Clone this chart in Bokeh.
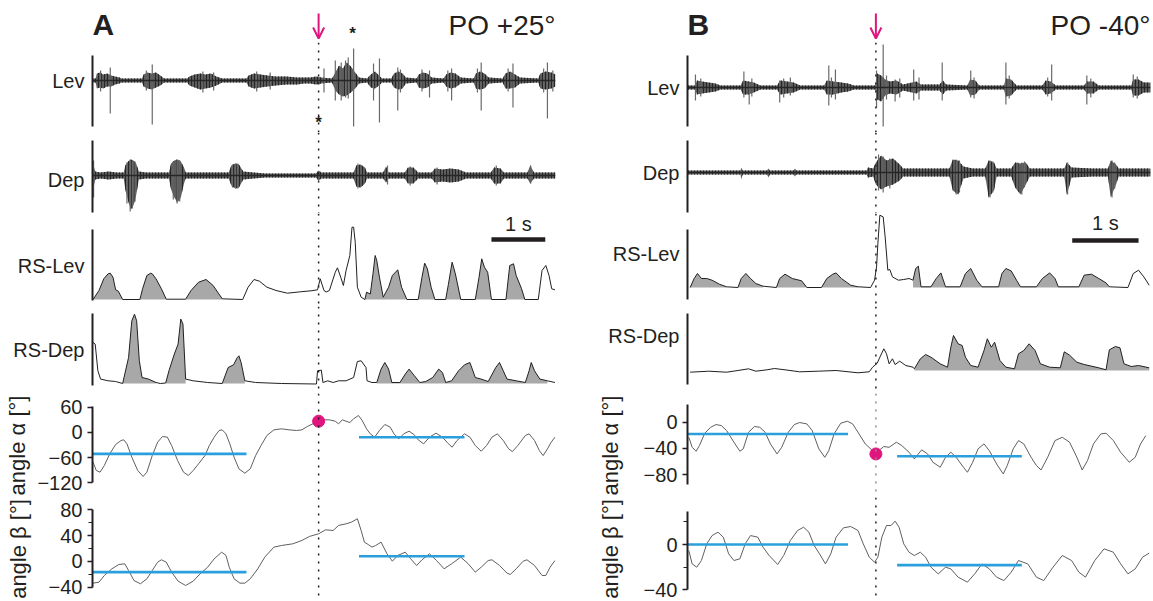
import numpy as np
from bokeh.plotting import figure
from bokeh.layouts import gridplot
from bokeh.models import Range1d, FixedTicker, Span, Arrow, OpenHead
from bokeh.core.properties import value
from bokeh.embed import file_html
from bokeh.resources import INLINE

# ---------------------------------------------------------------- data
# Panel A (PO +25 deg), time in s
A_T_END = 8.6
A_T_STIM = 4.2
LEV_A_T = [0.0, 0.06, 0.08, 0.14, 0.20, 0.27, 0.35, 0.42, 0.50, 0.54,
           0.92, 0.95, 1.02, 1.10, 1.18, 1.26, 1.33,
           1.76, 1.80, 1.90, 2.00, 2.10, 2.20, 2.30, 2.41,
           2.86, 2.90, 3.00, 3.12, 3.25, 3.40, 3.60, 3.80, 3.93,
           4.05, 4.15, 4.25,
           4.45, 4.51, 4.58, 4.65, 4.72, 4.80, 4.88, 4.95,
           5.10, 5.17, 5.25, 5.32, 5.38,
           5.55, 5.60, 5.68, 5.76, 5.82,
           6.02, 6.06, 6.14, 6.22, 6.30,
           6.52, 6.57, 6.65, 6.74, 6.84,
           7.08, 7.12, 7.20, 7.28, 7.36,
           7.62, 7.67, 7.76, 7.85, 7.94,
           8.28, 8.32, 8.42, 8.52, 8.60]
LEV_A_HI = [2, 2, 7, 8, 6, 7, 5, 4, 3, 2,
            2, 6, 8, 7, 8, 5, 2,
            2, 4, 6, 7, 6, 7, 4, 2,
            2, 5, 7, 6, 5, 4, 4, 3, 3,
            3, 4, 3,
            2, 8, 15, 12, 18, 14, 8, 3,
            2, 6, 9, 5, 2,
            2, 7, 9, 7, 3,
            2, 6, 8, 7, 3,
            2, 6, 8, 7, 3,
            2, 7, 9, 7, 3,
            2, 7, 9, 6, 3,
            2, 7, 9, 8, 6]
LEV_A_LO = [-2, -2, -8, -7, -8, -6, -6, -4, -3, -2,
            -2, -6, -8, -9, -7, -5, -2,
            -2, -5, -7, -9, -8, -7, -5, -2,
            -2, -6, -8, -7, -6, -5, -4, -4, -3,
            -3, -4, -3,
            -2, -10, -14, -16, -15, -12, -8, -3,
            -2, -7, -8, -5, -2,
            -2, -7, -9, -8, -3,
            -2, -7, -8, -7, -3,
            -2, -6, -8, -7, -3,
            -2, -8, -9, -8, -3,
            -2, -8, -8, -7, -3,
            -2, -8, -9, -8, -6]
LEV_A_SPK_T = [0.15, 0.33, 1.00, 1.11, 2.05, 2.25, 3.05, 3.30, 4.30, 4.51,
               4.62, 4.70, 4.75, 4.85, 5.22, 5.33, 5.67, 5.72, 6.12, 6.26,
               6.60, 6.67, 7.15, 7.22, 7.72, 7.81, 8.38, 8.45, 8.55]
LEV_A_SPK_HI = [10, 13, 10, 16, 9, 8, 9, 8, 12, 20,
                18, 20, 23, 32, 17, 22, 13, 11, 11, 10,
                10, 12, 12, 18, 12, 17, 12, 18, 10]
LEV_A_SPK_LO = [-11, -33, -10, -44, -12, -10, -11, -9, -12, -20,
                -20, -17, -18, -46, -20, -42, -30, -12, -11, -17,
                -11, -20, -12, -30, -11, -27, -12, -38, -11]

DEP_A_T = [0.0, 0.02, 0.05, 0.15, 0.30, 0.45,
           0.58, 0.61, 0.66, 0.71, 0.76, 0.81, 0.86,
           1.00, 1.20,
           1.42, 1.46, 1.52, 1.58, 1.64, 1.70, 1.73,
           1.95, 2.20,
           2.53, 2.58, 2.65, 2.72, 2.80,
           3.20, 3.70, 4.15, 4.20, 4.25,
           4.50, 4.85, 4.90, 4.98, 5.06, 5.10,
           5.40, 5.45, 5.50,
           5.80, 5.86, 5.96, 6.05,
           6.30, 6.36, 6.50, 6.65, 6.80, 6.94,
           7.40, 7.46, 7.58, 7.64,
           8.08, 8.13, 8.20, 8.60]
DEP_A_HI = [3, 10, 4, 3, 4, 3,
            3, 10, 14, 16, 15, 12, 4,
            3, 3,
            3, 12, 15, 16, 14, 8, 3,
            3, 3,
            3, 10, 12, 11, 4,
            2, 2, 2, 5, 3,
            3, 3, 10, 11, 8, 3,
            3, 9, 3,
            3, 8, 8, 3,
            3, 7, 6, 7, 6, 3,
            3, 8, 7, 3,
            3, 10, 3, 3]
DEP_A_LO = [-3, -12, -4, -3, -4, -3,
            -3, -14, -25, -34, -30, -20, -4,
            -3, -3,
            -3, -14, -22, -27, -22, -8, -3,
            -3, -3,
            -3, -10, -13, -12, -4,
            -2, -2, -2, -5, -3,
            -3, -3, -11, -12, -8, -3,
            -3, -7, -3,
            -3, -8, -8, -3,
            -3, -7, -6, -7, -6, -3,
            -3, -8, -8, -3,
            -3, -8, -3, -3]
DEP_A_SPK_T = [0.02, 0.64, 0.70, 0.74, 0.79, 1.50, 1.57, 1.62, 2.60, 2.66,
               2.70, 4.93, 5.48, 5.90, 6.40, 7.50, 8.14]
DEP_A_SPK_HI = [15, 13, 16, 14, 14, 14, 16, 15, 11, 12,
                12, 12, 10, 9, 8, 10, 10]
DEP_A_SPK_LO = [-22, -28, -36, -33, -26, -24, -28, -26, -12, -13,
                -13, -13, -9, -10, -9, -10, -8]

RSLEV_A_T = [0.01, 0.12, 0.21, 0.29, 0.33, 0.38, 0.43, 0.48, 0.56, 0.88,
             0.93, 1.01, 1.08, 1.11, 1.18, 1.28, 1.37, 1.73, 1.83, 1.97,
             2.11, 2.24, 2.41, 2.79, 2.89, 3.00, 3.10, 3.24, 3.41, 3.62,
             3.86, 4.06, 4.18, 4.23, 4.30, 4.34, 4.40, 4.51, 4.55, 4.61,
             4.66, 4.71, 4.78, 4.82, 4.85, 4.88, 4.92, 4.99, 5.06, 5.09,
             5.16, 5.21, 5.25, 5.28, 5.33, 5.40, 5.50, 5.57, 5.67, 5.74,
             5.84, 6.05, 6.12, 6.17, 6.22, 6.29, 6.36, 6.56, 6.61, 6.68,
             6.74, 6.84, 7.11, 7.18, 7.23, 7.28, 7.34, 7.41, 7.68, 7.75,
             7.82, 7.87, 7.97, 8.03, 8.28, 8.35, 8.42, 8.48, 8.53, 8.59]
RSLEV_A_V = [0, 9, 20.7, 25.7, 26.3, 22.3, 9.7, 8.3, 0, 0,
             10.7, 24, 26.3, 25.7, 20.7, 10.7, 0.3, 0.3, 9, 17.3,
             20, 14, 0.7, 0, 12.3, 20, 18.3, 12.3, 9, 6.3,
             7.7, 8.7, 9.7, 20.7, 9, 7.5, 9, 27.3, 31.7, 22.3,
             14, 29, 44, 72.3, 72.3, 57.3, 12.3, 2.3, 0, 7.3,
             5.5, 25.7, 44, 39, 22.3, 2.3, 12.3, 24, 29.7, 12.3,
             0, 0, 22.3, 36.3, 30.7, 12.3, 0, 0, 15, 37.3,
             25.7, 0, 0, 22.3, 40.7, 32.3, 27.3, 0, 0, 34,
             35.7, 24, 10.7, 0, 0, 29, 34, 24, 10.7, 9.7]
RSLEV_A_FILL = [(0.0, 0.57), (0.87, 1.38), (1.72, 2.42), (5.05, 8.29)]

RSDEP_A_T = [0.01, 0.05, 0.10, 0.15, 0.29, 0.43, 0.56, 0.67, 0.73, 0.78,
             0.82, 0.87, 0.92, 1.04, 1.18, 1.26, 1.36, 1.42, 1.52, 1.59,
             1.64, 1.68, 1.73, 1.87, 2.14, 2.41, 2.52, 2.62, 2.69, 2.72,
             2.76, 2.83, 3.03, 3.51, 4.16, 4.18, 4.25, 4.28, 4.37, 4.47,
             4.57, 4.71, 4.85, 4.92, 4.99, 5.08, 5.10, 5.19, 5.28, 5.36,
             5.43, 5.50, 5.56, 5.71, 5.81, 5.88, 5.98, 6.08, 6.19, 6.32,
             6.43, 6.50, 6.56, 6.67, 6.80, 6.91, 7.01, 7.11, 7.22, 7.35,
             7.49, 7.56, 7.63, 7.70, 7.87, 8.04, 8.11, 8.15, 8.21, 8.31,
             8.45, 8.59]
RSDEP_A_V = [41, 39.4, 12.7, 4.4, 2.7, 2, 0, 26, 62.7, 69.3,
             62.7, 22.7, 6, 4.4, 1, 0, 0.5, 12.7, 29.4, 39.4,
             64.4, 59.4, 4.4, 2.7, 1, 0, 16, 18.7, 26, 27.7,
             21, 2.7, 1, 0, -0.5, 12.7, 13.4, 1, 2.7, 1,
             2.7, 2.7, 6, 22, 22.7, 16, 2.7, 1, 1, 14.4,
             21, 14.4, 1, 1, 9.4, 14.4, 7.7, 1, 2, 6,
             14.4, 11, 1, 2.7, 12.7, 18.7, 21, 6, 4.4, 2,
             16, 21, 12.7, 4.4, 2.7, 1, 12.7, 21, 12.7, 4.4,
             2.7, 1]
RSDEP_A_FILL = [(0.55, 1.19), (1.35, 1.74), (2.40, 2.84), (5.27, 8.46)]

ALPHA_A_T = [0.01, 0.07, 0.14, 0.22, 0.32, 0.43, 0.53, 0.58, 0.64, 0.73,
             0.84, 0.94, 1.01, 1.11, 1.21, 1.30, 1.39, 1.47, 1.58, 1.69,
             1.78, 1.87, 1.97, 2.09, 2.17, 2.26, 2.35, 2.41, 2.48, 2.55,
             2.63, 2.72, 2.83, 2.93, 3.03, 3.13, 3.24, 3.37, 3.51, 3.65,
             3.79, 3.89, 3.99, 4.09, 4.20, 4.30, 4.40, 4.51, 4.57, 4.64,
             4.71, 4.78, 4.85, 4.94, 5.01, 5.09, 5.16, 5.24, 5.33, 5.43,
             5.53, 5.60, 5.69, 5.78, 5.88, 5.97, 6.05, 6.15, 6.26, 6.38,
             6.50, 6.60, 6.68, 6.77, 6.91, 7.01, 7.11, 7.22, 7.32, 7.42,
             7.52, 7.63, 7.73, 7.80, 7.90, 8.04, 8.11, 8.21, 8.30, 8.37,
             8.45, 8.52, 8.59]
ALPHA_A_V = [-70.8, -90.6, -94.6, -78.7, -51, -28.8, -19.3, -17.7, -27.2, -58.9,
             -90.6, -104.9, -94.6, -55, -23.2, -9.8, -11.3, -31.2, -66.8, -94.6,
             -102.5, -90.6, -74.8, -55, -31.2, -11.3, 4.5, 6.1, -3.4, -27.2,
             -58.9, -86.7, -97, -86.7, -55, -31.2, -7.4, 6.1, 8.5, 6.1,
             4.5, 6.1, 14, 20.3, 26.6, 29.9, 29.9, 26.6, 20.3, 29.9,
             26.6, 23.5, 32.3, 40.2, 28.3, 8.5, -3.4, -11.3, 4.5, 18.8,
             12.5, -3.4, -15.3, -3.4, 2.9, -5, -17.7, -27.2, -11.3, -1.8,
             -11.3, -25.6, -35.1, -19.3, -3.4, -11.3, -31.2, -44.8, -31.2, -11.3,
             -3.4, -19.3, -39.2, -45.6, -31.2, -7.4, -3.4, -19.3, -43.2, -55.1,
             -39.2, -23.3, -11.3]
BETA_A_T = [0.01, 0.12, 0.22, 0.36, 0.49, 0.60, 0.67, 0.77, 0.89, 1.01,
            1.11, 1.21, 1.28, 1.37, 1.47, 1.59, 1.73, 1.87, 2.00, 2.14,
            2.26, 2.40, 2.48, 2.54, 2.63, 2.74, 2.83, 2.93, 3.07, 3.20,
            3.37, 3.51, 3.72, 3.89, 4.03, 4.20, 4.33, 4.47, 4.57, 4.71,
            4.81, 4.92, 4.99, 5.05, 5.12, 5.19, 5.26, 5.36, 5.47, 5.57,
            5.67, 5.81, 5.91, 6.02, 6.12, 6.26, 6.39, 6.53, 6.67, 6.84,
            6.98, 7.11, 7.22, 7.35, 7.42, 7.56, 7.70, 7.76, 7.87, 8.00,
            8.07, 8.21, 8.35, 8.42, 8.50, 8.59]
BETA_A_V = [-33.5, -32, -21.6, -11.3, -4.6, -3.6, -13.9, -29.4, -34.5, -26.8,
            -13.9, -1, 2.6, -1, -16.5, -30.4, -37.1, -30.4, -19, -8.8,
            4.1, 14.4, 9.3, -8.8, -26.8, -33.5, -33.5, -26.8, -11.3, 6.7,
            22.2, 24.7, 27.3, 32.5, 38.7, 42.8, 49, 47.9, 55.7, 58.2,
            60.8, 66, 47.9, 29.9, 26.3, 22.2, 24.7, 29.9, 11.9, 0.5,
            9.3, 14.4, 4.1, -6.2, 2.6, 11.9, 1.5, -11.3, -3.6, 6.7,
            -3.6, -16.5, -8.8, 1.5, 2.6, -6.2, -18, -20.1, -11.3, 0.5,
            2.6, -6.2, -21.6, -21.6, -8.8, 1.5]
MEAN_A_T0 = [0.0, 4.95]
MEAN_A_T1 = [2.86, 6.91]
MEAN_A_ALPHA = [-51, -11.4]
MEAN_A_BETA = [-16.5, 8.2]
DOT_A_ALPHA = 26.6

# Panel B (PO -40 deg)
B_T_END = 6.98
B_T_STIM = 2.84
LEV_B_T = [0.0, 0.12, 0.14, 0.22, 0.32, 0.42, 0.50,
           0.80, 0.84, 0.92, 1.00, 1.10,
           1.35, 1.40, 1.50, 1.60, 1.70,
           2.06, 2.10, 2.20, 2.32, 2.42, 2.51,
           2.83, 2.86, 2.92, 2.98, 3.05, 3.15, 3.25, 3.45, 3.52, 3.80, 3.85, 3.90,
           4.22, 4.26, 4.34, 4.40,
           4.77, 4.80, 4.88, 4.96,
           5.35, 5.40, 5.48, 5.55,
           5.98, 6.02, 6.12, 6.20,
           6.69, 6.72, 6.80, 6.88, 6.98]
LEV_B_HI = [2, 2, 7, 6, 5, 4, 2,
            2, 7, 6, 5, 2,
            2, 7, 6, 5, 2,
            2, 7, 6, 5, 4, 2,
            2, 14, 12, 8, 6, 7, 3, 6, 3, 3, 7, 3,
            2, 8, 7, 2,
            2, 9, 8, 2,
            2, 7, 6, 2,
            2, 6, 6, 2,
            2, 8, 8, 5, 5]
LEV_B_LO = [-2, -2, -7, -6, -5, -4, -2,
            -2, -7, -7, -5, -2,
            -2, -7, -6, -5, -2,
            -2, -7, -7, -5, -4, -2,
            -2, -12, -14, -8, -6, -7, -3, -6, -3, -3, -7, -3,
            -2, -8, -7, -2,
            -2, -9, -8, -2,
            -2, -7, -6, -2,
            -2, -6, -6, -2,
            -2, -8, -8, -5, -5]
LEV_B_SPK_T = [0.12, 0.20, 0.85, 0.93, 0.97, 1.39, 1.45, 1.55, 2.13, 2.17,
               2.23, 2.85, 2.95, 3.00, 3.13, 3.20, 3.41, 3.49, 3.84, 4.27,
               4.32, 4.80, 4.85, 5.43, 5.49, 6.02, 6.08, 6.72, 6.78]
LEV_B_SPK_HI = [13, 9, 16, 5, 9, 7, 9, 10, 22, 10,
                18, 17, 43, 12, 8, 9, 18, 10, 25, 17,
                10, 25, 12, 10, 23, 12, 9, 13, 11]
LEV_B_SPK_LO = [-13, -9, -10, -17, -9, -15, -10, -8, -18, -10,
                -12, -20, -39, -12, -14, -10, -13, -12, -13, -10,
                -11, -17, -11, -9, -13, -17, -10, -10, -11]

DEP_B_T = [0.0, 0.80, 0.81, 0.83, 1.20, 1.22, 1.24, 1.60, 1.62, 1.64,
           2.70, 2.72, 2.80, 2.84, 2.92, 3.00, 3.10, 3.20, 3.25, 3.50, 3.80,
           3.95, 4.00, 4.08, 4.16, 4.30,
           4.49, 4.54, 4.62, 4.66,
           4.88, 4.94, 5.02, 5.10, 5.16,
           5.50, 5.68, 5.72, 5.79,
           6.10, 6.34, 6.38, 6.46, 6.50, 6.98]
DEP_B_HI = [2, 2, 5, 2, 2, 4, 2, 2, 4, 2,
            2, 5, 4, 10, 17, 12, 14, 8, 4, 4, 4,
            4, 13, 12, 6, 4,
            4, 12, 10, 4,
            4, 10, 9, 10, 4,
            4, 4, 10, 5,
            4, 4, 12, 8, 4, 4]
DEP_B_LO = [-2, -2, -7, -2, -2, -5, -2, -2, -4, -2,
            -2, -5, -4, -12, -17, -14, -12, -8, -4, -4, -4,
            -4, -18, -22, -6, -4,
            -4, -25, -18, -4,
            -4, -15, -22, -12, -4,
            -4, -4, -22, -5,
            -4, -4, -25, -12, -4, -4]
DEP_B_SPK_T = [2.88, 2.95, 3.05, 4.05, 4.10, 4.56, 4.60, 4.98, 5.04, 5.08,
               5.73, 6.40, 6.44]
DEP_B_SPK_HI = [18, 16, 14, 13, 12, 12, 11, 10, 10, 11,
                10, 12, 10]
DEP_B_SPK_LO = [-18, -20, -16, -22, -20, -25, -20, -18, -22, -14,
                -22, -25, -16]

RSLEV_B_T = [0.04, 0.10, 0.15, 0.21, 0.29, 0.37, 0.48, 0.59, 0.76, 0.81,
             0.88, 0.95, 1.03, 1.14, 1.34, 1.39, 1.47, 1.58, 1.72, 1.80,
             2.02, 2.10, 2.19, 2.24, 2.32, 2.46, 2.57, 2.76, 2.82, 2.85,
             2.87, 2.90, 2.95, 2.98, 3.02, 3.05, 3.09, 3.18, 3.26, 3.34,
             3.40, 3.44, 3.48, 3.52, 3.67, 3.75, 3.82, 3.89, 4.11, 4.19,
             4.27, 4.36, 4.44, 4.69, 4.74, 4.80, 4.88, 4.96, 5.02, 5.26,
             5.35, 5.46, 5.54, 5.59, 5.90, 5.98, 6.09, 6.20, 6.31, 6.36,
             6.64, 6.72, 6.80, 6.88, 6.96]
RSLEV_B_V = [0, 9, 14, 9, 9, 7.3, 3.3, 0.7, 0, 9,
             14, 9, 4, 1.3, 0, 9, 13.3, 9, 6.7, 0,
             0, 9, 13.3, 14.6, 9, 2.3, 0.7, 0, 7.3, 20.6,
             44, 72.3, 70.6, 50.6, 17.3, 18, 10.6, 7.3, 8, 9,
             7.3, 19, 21.3, 0.7, 0.7, 9, 14.6, 0.7, 0.7, 14,
             19, 7.3, 0.7, 0.7, 14, 19, 16.6, 7.3, 0.7, 0.7,
             9, 14.6, 9, 0.7, 0.7, 12.3, 13.3, 9, 4.6, 0.7,
             0, 14, 17.3, 10.6, 2.3]
RSLEV_B_FILL = [(0.03, 0.60), (0.75, 1.15), (1.33, 1.81), (2.01, 2.58), (3.39, 6.37)]

RSDEP_B_T = [0.04, 0.32, 0.59, 0.76, 0.92, 1.03, 1.20, 1.31, 1.47, 1.69,
             1.97, 2.24, 2.57, 2.74, 2.79, 2.86, 2.90, 2.96, 3.00, 3.04,
             3.09, 3.13, 3.20, 3.29, 3.40, 3.42, 3.51, 3.59, 3.67, 3.81,
             3.92, 3.97, 4.01, 4.08, 4.14, 4.19, 4.27, 4.38, 4.47, 4.52,
             4.58, 4.63, 4.71, 4.80, 4.93, 4.99, 5.07, 5.15, 5.24, 5.32,
             5.46, 5.62, 5.68, 5.76, 5.87, 5.98, 6.20, 6.31, 6.36, 6.45,
             6.52, 6.58, 6.69, 6.80, 6.96]
RSDEP_B_V = [-1.7, -0.7, -1.7, 0, 1.7, -0.7, 0.7, 2, 0.7, -1.3,
             -0.7, 0, -2.3, -1.3, 3.3, 7.3, 13.3, 21.7, 16.7, 6.7,
             11.7, 6, 9.3, 5, 3.3, 1.7, 11.7, 16, 13.3, 6.7,
             3.3, 23.3, 35, 26.7, 25, 13.3, 5, 3.3, 20, 31.7,
             23.3, 28.3, 10, 3.3, 1.7, 16.7, 20, 26.7, 20, 6.7,
             3.3, 2.7, 18.7, 15.3, 8.3, 6, 2.7, 0.7, 20.7, 24,
             22.7, 6.7, 4, 5, 2.7]
RSDEP_B_FILL = [(3.41, 6.97)]

ALPHA_B_T = [0.02, 0.07, 0.13, 0.18, 0.26, 0.35, 0.43, 0.51, 0.59, 0.70,
             0.79, 0.84, 0.92, 1.01, 1.09, 1.17, 1.25, 1.35, 1.42, 1.52,
             1.61, 1.69, 1.80, 1.88, 1.98, 2.07, 2.13, 2.21, 2.31, 2.41,
             2.49, 2.57, 2.68, 2.79, 2.84, 2.87, 2.96, 3.04, 3.15, 3.23,
             3.34, 3.42, 3.48, 3.53, 3.62, 3.70, 3.81, 3.89, 3.97, 4.05,
             4.16, 4.22, 4.30, 4.38, 4.47, 4.55, 4.66, 4.76, 4.82, 4.91,
             4.99, 5.07, 5.18, 5.26, 5.33, 5.43, 5.54, 5.65, 5.76, 5.87,
             5.95, 6.03, 6.12, 6.23, 6.31, 6.42, 6.53, 6.66, 6.75, 6.83,
             6.91]
ALPHA_B_V = [-23, -38.3, -44.4, -35.7, -16.8, -7.7, -3.6, -5.1, -12.8, -30.6,
             -44.4, -40.8, -15.3, -6.6, -7.7, -15.3, -33.2, -48.5, -38.3, -15.3,
             -3.6, -0.5, -2.6, -12.8, -40.8, -53.6, -43.4, -17.9, -1.5, 1.5,
             -2.6, -15.3, -33.2, -43.4, -48.5, -44.4, -37.2, -38.3, -30.6, -35.7,
             -45.9, -56.1, -48.5, -42.3, -48.5, -61.2, -68.9, -53.6, -45.9, -53.6,
             -68.9, -76.5, -61.2, -40.8, -33.2, -43.4, -63.8, -79.1, -66.3, -40.8,
             -28.1, -33.2, -53.6, -66.3, -73, -53.6, -28.1, -23, -30.6, -53.6,
             -73, -58.7, -33.2, -17.9, -16.8, -28.1, -45.9, -61.2, -53.6, -33.2,
             -20.4]
BETA_B_T = [0.02, 0.07, 0.14, 0.21, 0.29, 0.37, 0.46, 0.54, 0.62, 0.70,
            0.79, 0.87, 0.95, 1.06, 1.14, 1.23, 1.36, 1.45, 1.55, 1.66,
            1.75, 1.83, 1.91, 1.99, 2.08, 2.16, 2.24, 2.35, 2.46, 2.57,
            2.65, 2.74, 2.82, 2.87, 2.93, 3.00, 3.07, 3.13, 3.19, 3.26,
            3.34, 3.42, 3.51, 3.59, 3.67, 3.78, 3.89, 3.97, 4.08, 4.22,
            4.33, 4.44, 4.55, 4.66, 4.77, 4.88, 4.99, 5.13, 5.26, 5.37,
            5.51, 5.65, 5.79, 5.90, 6.00, 6.14, 6.28, 6.42, 6.53, 6.64,
            6.75, 6.86, 6.96]
BETA_B_V = [-5.3, -17.1, -20, -14.1, 0.6, 7.9, 10.9, 6.5, -8.2, -14.1,
            -12.6, 0.6, 7.9, 6.5, -2.4, -9.7, -17.6, -9.7, 3.5, 12.4,
            15.3, 10.9, -0.9, -8.2, -17.1, -8.2, 6.5, 14.7, 15.9, 12.4,
            0.6, -11.2, -15.6, -11.2, 6.5, 16.8, 16.8, 20.6, 15.3, 0.6,
            -6.8, -9.7, -6.8, -11.2, -20, -25.9, -20, -21.5, -28.8, -33.2,
            -25.9, -17.1, -21.5, -28.8, -31.8, -24.4, -14.1, -17.1, -28.8, -31.8,
            -20, -9.7, -14.1, -24.4, -28.8, -14.1, -3.8, -6.8, -17.1, -25.9,
            -21.5, -11.2, -7.6]
MEAN_B_T0 = [0.0, 3.16]
MEAN_B_T1 = [2.42, 5.04]
MEAN_B_ALPHA = [-18, -52]
MEAN_B_BETA = [0, -18.2]
DOT_B_ALPHA = -48.5

SCALE_S = 1.0  # length of the time scale bar, s

# ---------------------------------------------------------------- style
FONT = "Liberation Sans"
INK = "#231f20"
BURST = "#5c5c5c"
HATCH = "#262626"
SPIKE = "#6a6a6a"
FILL = "#a8a8a8"
ANG = "#5f5f5f"
BLUE = "#2a9fdb"
PINK = "#e0157e"
ROW_H = [42, 90, 81, 93, 87, 104, 103]


def make(width, height, xr, yr, left, right, yaxis=True):
    p = figure(width=width, height=height, x_range=xr, y_range=Range1d(*yr),
               output_backend="svg", toolbar_location=None, tools="",
               x_axis_location=None, y_axis_location=("left" if yaxis else None),
               min_border_left=left, min_border_right=right,
               min_border_top=0, min_border_bottom=0)
    p.outline_line_color = None
    p.grid.visible = False
    p.background_fill_color = "white"
    p.border_fill_color = "white"
    return p


def style_axis(p, ticks, bounds, labels=None, minor=(), tick_len=0,
               title=None, title_standoff=5, label_standoff=6):
    ax = p.yaxis[0]
    ax.ticker = FixedTicker(ticks=list(ticks), minor_ticks=list(minor))
    if labels:
        ax.major_label_overrides = labels
    ax.bounds = bounds
    ax.axis_line_color = INK
    ax.axis_line_width = 2
    ax.major_tick_out = tick_len
    ax.major_tick_in = 0
    ax.major_tick_line_width = 1.5
    ax.major_tick_line_color = INK if tick_len else None
    ax.minor_tick_out = 4
    ax.minor_tick_in = 0
    ax.minor_tick_line_width = 1.2
    ax.minor_tick_line_color = INK
    ax.major_label_text_font = FONT
    ax.major_label_text_font_size = "20px"
    ax.major_label_text_color = INK
    ax.major_label_standoff = label_standoff
    if title:
        ax.axis_label = title
        ax.axis_label_text_font = FONT
        ax.axis_label_text_font_size = "22px"
        ax.axis_label_text_font_style = "normal"
        ax.axis_label_text_color = INK
        ax.axis_label_standoff = title_standoff


def stim_line(p, t, color=INK):
    p.add_layout(Span(location=t, dimension="height", line_color=color,
                      line_width=1.5, line_dash="2 6"))


def spikes(p, t, hi, lo, st, shi, slo):
    p.varea(x=t, y1=lo, y2=hi, fill_color=BURST, hatch_pattern="vertical_line",
            hatch_color=HATCH, hatch_scale=3, hatch_weight=1)
    p.segment(x0=st, x1=st, y0=slo, y1=shi, line_color=SPIKE, line_width=1.2)
    p.line(x=[t[0], t[-1]], y=[0, 0], line_color=HATCH, line_width=1.5)


def rs(p, t, v, regions):
    t = np.asarray(t, float)
    v = np.asarray(v, float)
    for a, b in regions:
        m = (t >= a) & (t <= b)
        p.varea(x=t[m], y1=np.zeros(int(m.sum())), y2=v[m], fill_color=FILL)
    p.line(t, v, line_color=INK, line_width=1)


def text(p, x, y, s, size, align="left", bold=False):
    p.text(x=[x], y=[y], text=[s], text_font=value(FONT), text_font_size=size,
           text_font_style=("bold" if bold else "normal"), text_color=INK,
           text_align=align, text_baseline="middle")


def panel(c):
    xr = Range1d(0, c["t_end"])
    W, L, R = c["W"], c["L"], c["R"]
    ts = c["t_stim"]
    figs = []
    # header
    h = make(W, ROW_H[0], xr, (0, 42), L, R, yaxis=False)
    text(h, 0, 18, c["letter"], "30px", bold=True)
    text(h, c["t_end"], 17, c["title"], "28px", align="right")
    h.add_layout(Arrow(end=OpenHead(size=11, line_color=PINK, line_width=2),
                       x_start=ts, y_start=29, x_end=ts, y_end=4,
                       line_color=PINK, line_width=2))
    for st in c["star_top"]:
        text(h, st, 9, "*", "17px", align="center", bold=True)
    figs.append(h)
    # Lev
    p = make(W, ROW_H[1], xr, c["lev_yr"], L, R)
    style_axis(p, [0], c["lev_b"], labels={0: "Lev"}, label_standoff=8)
    spikes(p, *c["lev"])
    for st in c["star_lev"]:
        text(p, st, -42, "*", "17px", align="center", bold=True)
    stim_line(p, ts)
    figs.append(p)
    # Dep
    p = make(W, ROW_H[2], xr, c["dep_yr"], L, R)
    style_axis(p, [c["dep_lab"]], c["dep_b"], labels={c["dep_lab"]: "Dep"}, label_standoff=8)
    spikes(p, *c["dep"])
    stim_line(p, ts)
    figs.append(p)
    # RS-Lev
    p = make(W, ROW_H[3], xr, c["rsl_yr"], L, R)
    style_axis(p, [34], c["rsl_b"], labels={34: "RS-Lev"}, label_standoff=8)
    rs(p, *c["rsl"])
    sb0, sby, sbt = c["sbar"]
    p.segment(x0=[sb0], x1=[sb0 + SCALE_S], y0=[sby], y1=[sby], line_color=INK,
              line_width=4.5, line_cap="butt")
    text(p, sb0 + SCALE_S / 2, sbt, "1 s", "20px", align="center")
    stim_line(p, ts)
    figs.append(p)
    # RS-Dep
    p = make(W, ROW_H[4], xr, c["rsd_yr"], L, R)
    style_axis(p, [c["rsd_lab"]], c["rsd_b"], labels={c["rsd_lab"]: "RS-Dep"}, label_standoff=8)
    rs(p, *c["rsd"])
    stim_line(p, ts)
    figs.append(p)
    # angle alpha
    p = make(W, ROW_H[5], xr, c["al_yr"], L, R)
    style_axis(p, c["al_ticks"], c["al_b"], minor=c["al_minor"], tick_len=5,
               title="angle \u03b1 [\u00b0]", title_standoff=c["al_ts"], label_standoff=5)
    stim_line(p, ts, c["al_stim_col"])
    p.line(c["al_t"], c["al_v"], line_color=ANG, line_width=1)
    p.segment(x0=c["m_t0"], x1=c["m_t1"], y0=c["m_al"], y1=c["m_al"],
              line_color=BLUE, line_width=2.6)
    p.scatter([ts], [c["dot"]], size=12, fill_color=PINK, line_color=PINK)
    figs.append(p)
    # angle beta
    p = make(W, ROW_H[6], xr, c["be_yr"], L, R)
    style_axis(p, c["be_ticks"], c["be_b"], minor=c["be_minor"], tick_len=5,
               title="angle \u03b2 [\u00b0]", title_standoff=c["be_ts"], label_standoff=5)
    stim_line(p, ts)
    p.line(c["be_t"], c["be_v"], line_color=ANG, line_width=1)
    p.segment(x0=c["m_t0"], x1=c["m_t1"], y0=c["m_be"], y1=c["m_be"],
              line_color=BLUE, line_width=2.6)
    figs.append(p)
    return figs


cfg_a = dict(
    t_end=A_T_END, t_stim=A_T_STIM, W=575, L=92, R=20,
    letter="A", title="PO +25\u00b0", star_top=[4.83], star_lev=[A_T_STIM],
    lev_yr=(-52, 38), lev_b=(-46, 25),
    lev=(LEV_A_T, LEV_A_HI, LEV_A_LO, LEV_A_SPK_T, LEV_A_SPK_HI, LEV_A_SPK_LO),
    dep_yr=(-38, 43), dep_b=(-37, 35), dep_lab=-4,
    dep=(DEP_A_T, DEP_A_HI, DEP_A_LO, DEP_A_SPK_T, DEP_A_SPK_HI, DEP_A_SPK_LO),
    rsl_yr=(-7, 86), rsl_b=(-1, 70), rsl=(RSLEV_A_T, RSLEV_A_V, RSLEV_A_FILL),
    sbar=(7.41, 60, 76),
    rsd_yr=(-10, 77), rsd_b=(-2, 70), rsd_lab=34, rsd=(RSDEP_A_T, RSDEP_A_V, RSDEP_A_FILL),
    al_yr=(-154.8, 92.5), al_b=(-120, 62), al_ticks=[60, 0, -60, -120], al_minor=[],
    al_ts=4, al_stim_col=INK, al_t=ALPHA_A_T, al_v=ALPHA_A_V, dot=DOT_A_ALPHA,
    be_yr=(-60.3, 98.9), be_b=(-40, 80), be_ticks=[80, 40, 0, -40], be_minor=[60, 20, -20],
    be_ts=15, be_t=BETA_A_T, be_v=BETA_A_V,
    m_t0=MEAN_A_T0, m_t1=MEAN_A_T1, m_al=MEAN_A_ALPHA, m_be=MEAN_A_BETA,
)
cfg_b = dict(
    t_end=B_T_END, t_stim=B_T_STIM, W=578, L=112, R=3,
    letter="B", title="PO -40\u00b0", star_top=[], star_lev=[],
    lev_yr=(-45, 45), lev_b=(-39, 32),
    lev=(LEV_B_T, LEV_B_HI, LEV_B_LO, LEV_B_SPK_T, LEV_B_SPK_HI, LEV_B_SPK_LO),
    dep_yr=(-41, 40), dep_b=(-40, 32), dep_lab=0,
    dep=(DEP_B_T, DEP_B_HI, DEP_B_LO, DEP_B_SPK_T, DEP_B_SPK_HI, DEP_B_SPK_LO),
    rsl_yr=(-19, 74), rsl_b=(-12, 58), rsl=(RSLEV_B_T, RSLEV_B_V, RSLEV_B_FILL),
    sbar=(5.80, 47, 64.5),
    rsd_yr=(-23, 64), rsd_b=(-14, 57), rsd_lab=35, rsd=(RSDEP_B_T, RSDEP_B_V, RSDEP_B_FILL),
    al_yr=(-115.1, 43.9), al_b=(-95, 27), al_ticks=[0, -40, -80], al_minor=[],
    al_ts=18, al_stim_col="#8a8a8a", al_t=ALPHA_B_T, al_v=ALPHA_B_V, dot=DOT_B_ALPHA,
    be_yr=(-49.4, 41.5), be_b=(-40, 29), be_ticks=[0, -40], be_minor=[20, -20],
    be_ts=18, be_t=BETA_B_T, be_v=BETA_B_V,
    m_t0=MEAN_B_T0, m_t1=MEAN_B_T1, m_al=MEAN_B_ALPHA, m_be=MEAN_B_BETA,
)

figs_a = panel(cfg_a)
figs_b = panel(cfg_b)
layout = gridplot([[a, b] for a, b in zip(figs_a, figs_b)], toolbar_location=None)

open("out.html", "w").write(file_html(layout, INLINE))
